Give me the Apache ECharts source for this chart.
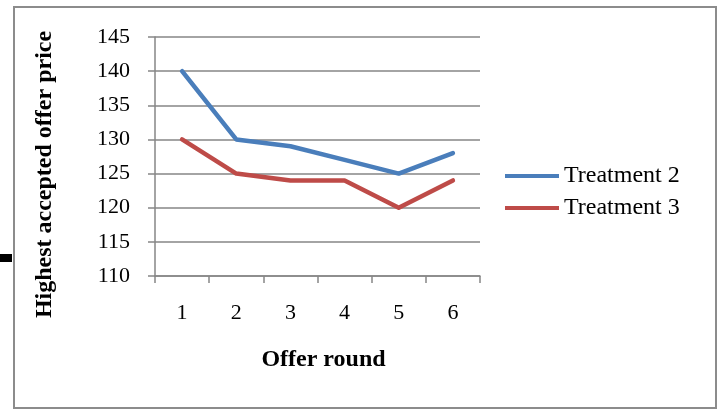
<!DOCTYPE html>
<html>
<head>
<meta charset="utf-8">
<script src="https://cdn.jsdelivr.net/npm/echarts@6/dist/echarts.min.js"></script>
<style>
  html, body { margin: 0; padding: 0; background: #fff; }
  #chart { width: 723px; height: 410px; }
</style>
</head>
<body>
<div id="chart"></div>
<script>
// Offer rounds and highest accepted offer price per treatment
const rounds = ['1', '2', '3', '4', '5', '6'];
const treatment2 = [140, 130, 129, 127, 125, 128];
const treatment3 = [130, 125, 124, 124, 120, 124];
const seriesNames = ['Treatment 2', 'Treatment 3'];
const yTicks = { min: 110, max: 145, interval: 5 };

const serif = 'Liberation Serif';
const axisGray = '#868686';

const chart = echarts.init(document.getElementById('chart'), null, { renderer: 'canvas' });
chart.setOption({
  backgroundColor: '#fff',
  animation: false,
  graphic: [
    {
      type: 'rect',
      shape: { x: 14, y: 7, width: 702, height: 401 },
      style: { fill: 'none', stroke: '#8c8c8c', lineWidth: 2 },
      silent: true
    },
    {
      type: 'rect',
      shape: { x: 0, y: 254, width: 12, height: 8 },
      style: { fill: '#000' },
      silent: true
    }
  ],
  grid: { left: 155, right: 243, top: 37, bottom: 134 },
  legend: {
    orient: 'vertical',
    left: 500,
    top: 159,
    itemWidth: 54,
    itemHeight: 4,
    itemGap: 8,
    icon: 'rect',
    textStyle: { fontFamily: serif, fontSize: 24, color: '#000' },
    data: seriesNames
  },
  xAxis: {
    type: 'category',
    data: rounds,
    boundaryGap: true,
    name: 'Offer round',
    nameLocation: 'middle',
    nameGap: 72,
    nameTextStyle: { fontFamily: serif, fontSize: 24, fontWeight: 'bold', color: '#000', padding: [0, 0, 0, 12] },
    axisLine: { lineStyle: { color: axisGray, width: 1.5 } },
    axisTick: { show: true, length: 7, alignWithLabel: false, lineStyle: { color: axisGray, width: 1.5 } },
    axisLabel: { fontFamily: serif, fontSize: 22, color: '#000', margin: 26 },
    splitLine: { show: false }
  },
  yAxis: {
    type: 'value',
    min: yTicks.min,
    max: yTicks.max,
    interval: yTicks.interval,
    name: 'Highest accepted offer price',
    nameLocation: 'middle',
    nameGap: 98,
    nameTextStyle: { fontFamily: serif, fontSize: 24, fontWeight: 'bold', color: '#000', padding: [0, 36, 0, 0] },
    axisLine: { show: true, lineStyle: { color: axisGray, width: 1.5 } },
    axisTick: { show: true, length: 7, lineStyle: { color: axisGray, width: 1.5 } },
    axisLabel: { fontFamily: serif, fontSize: 22, color: '#000', margin: 25 },
    splitLine: { show: true, lineStyle: { color: axisGray, width: 1.5 } }
  },
  series: [
    {
      name: seriesNames[0],
      type: 'line',
      data: treatment2,
      symbol: 'none',
      lineStyle: { color: '#4a7ebb', width: 4.5, cap: 'round', join: 'round' },
      itemStyle: { color: '#4a7ebb' }
    },
    {
      name: seriesNames[1],
      type: 'line',
      data: treatment3,
      symbol: 'none',
      lineStyle: { color: '#be4b48', width: 4.5, cap: 'round', join: 'round' },
      itemStyle: { color: '#be4b48' }
    }
  ]
});
</script>
</body>
</html>
